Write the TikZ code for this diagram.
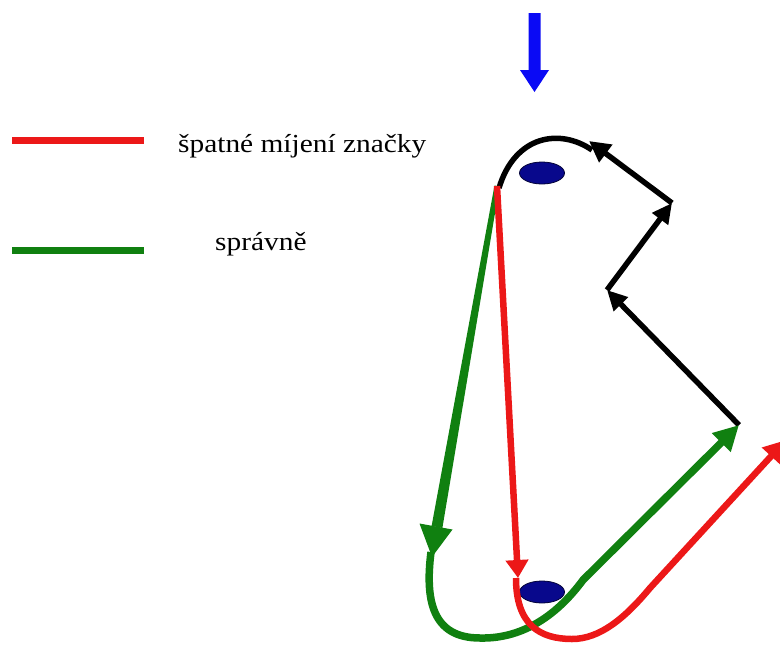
\documentclass[tikz,border=0pt]{standalone}
\usepackage{fontspec}
\setmainfont{Liberation Serif}
\usetikzlibrary{arrows.meta,shapes.geometric}
\definecolor{myred}{RGB}{236,24,24}
\definecolor{mygreen}{RGB}{16,128,16}
\definecolor{myblue}{RGB}{10,10,245}
\definecolor{mynavy}{RGB}{8,8,140}
\tikzset{
  redline/.style={draw=myred, line width=6.5pt},
  greenline/.style={draw=mygreen, line width=7.5pt},
  blackline/.style={draw=black, line width=5.5pt},
  blackhead/.style={-{Triangle[length=20pt,width=19pt]}},
  mark ellipse/.style={ellipse, fill=mynavy, draw=black!60!mynavy, line width=0.8pt, minimum width=45pt, minimum height=22pt, inner sep=0pt},
  legendtext/.style={font=\fontsize{26}{30}\selectfont, xscale=1.13, inner sep=0pt}
}
\begin{document}
\begin{tikzpicture}[x=1pt,y=-1pt]
\useasboundingbox (0,0) rectangle (780,646);
\clip (0,0) rectangle (780,646);
% legend
\coordinate (lr1) at (12,140.5);
\coordinate (lr2) at (144,140.5);
\coordinate (lg1) at (12,250);
\coordinate (lg2) at (144,250);
\draw[redline] (lr1) -- (lr2);
\draw[greenline, line width=7pt] (lg1) -- (lg2);
\node[legendtext, anchor=base west] (t1) at (178,152) {špatné míjení značky};
\node[legendtext, anchor=base west] (t2) at (215,250) {správně};
% blue arrow
\fill[myblue] (528.5,13) -- (540.5,13) -- (540.5,70) -- (549,70) -- (534.5,92) -- (520,70) -- (528.5,70) -- cycle;
% marks
\node[mark ellipse] (e1) at (542,173) {};
\node[mark ellipse] (e2) at (542,592) {};
% coordinates
\coordinate (top) at (497,186);
\coordinate (gtip) at (432,557);
\coordinate (rtip) at (518,578);
\coordinate (b1) at (739,425);
\coordinate (b2) at (607,290);
\coordinate (b3) at (672,203);
\coordinate (b4) at (589,141);
\coordinate (b5) at (592,150);
% black path
\draw[blackline, blackhead] (b1) -- (b2);
\draw[blackline, blackhead] (b2) -- (b3);
\draw[blackline, -{Triangle[length=21pt,width=21pt]}] (b3) -- (b4);
\draw[blackline] (b5) .. controls (560,128) and (515,135) .. (499,188);
% green straight (tapered) with head
\fill[mygreen] (494.5,185.5) -- (499.5,186.3) -- (442.4,528) -- (431.6,526) -- cycle;
\fill[mygreen] (419.5,523.5) -- (452.5,529.5) -- (gtip) -- cycle;
% green curve
\draw[greenline, -{Triangle[length=25pt,width=25pt]}] (431,552) .. controls (425,600) and (432,638) .. (480,638) .. controls (520,639) and (555,618) .. (583,580) -- (b1);
% red straight
\draw[redline, -{Triangle[length=18pt,width=22pt]}] (top) -- (rtip);
% red curve
\coordinate (rend) at (786,440);
\draw[redline, -{Triangle[length=22pt,width=24pt]}] (516,578) .. controls (516,625) and (540,639) .. (572,639) .. controls (600,639) and (625,618) .. (650,588) -- (rend);
\end{tikzpicture}
\end{document}
